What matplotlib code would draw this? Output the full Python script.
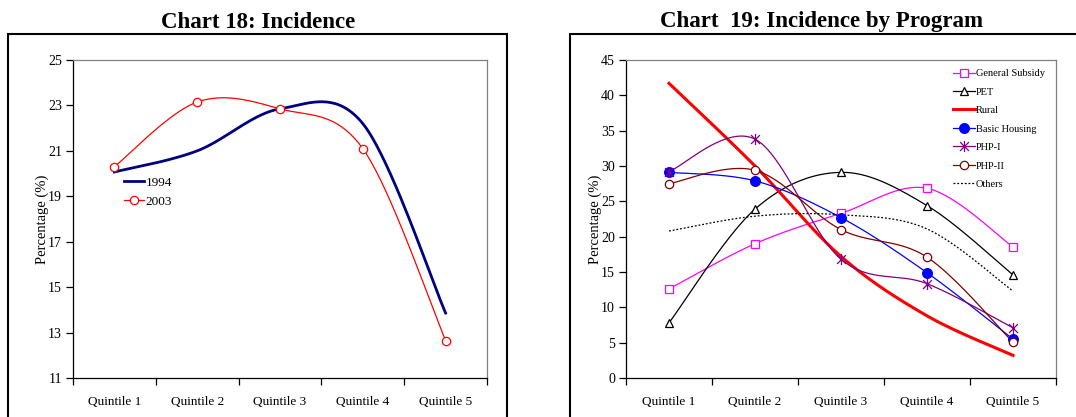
"""
Incidence charts: overall by year and by housing program.
"""

import numpy as np
import matplotlib.pyplot as plt
from matplotlib.patches import Rectangle
from matplotlib.path import Path

quintiles = ['Quintile 1', 'Quintile 2', 'Quintile 3', 'Quintile 4', 'Quintile 5']

# Chart 18
inc_1994 = [20.07, 21.0, 22.85, 22.2, 13.86]
inc_2003 = [20.3, 23.15, 22.85, 21.1, 12.65]

# Chart 19
general_subsidy = [12.6, 19.0, 23.3, 26.85, 18.55]
pet = [7.8, 23.9, 29.1, 24.4, 14.6]
rural = [41.7, 30.0, 17.2, 8.8, 3.2]
basic_housing = [29.1, 27.9, 22.7, 14.9, 5.5]
php_1 = [29.2, 33.8, 16.8, 13.35, 7.1]
php_2 = [27.5, 29.4, 21.0, 17.1, 5.05]
others = [20.8, 22.9, 23.1, 21.1, 12.3]

plt.rcParams['font.family'] = ['Liberation Serif', 'DejaVu Serif']

# asterisk marker: vertical bar plus an x
star = Path([(0, -1), (0, 1), (-0.8, -0.8), (0.8, 0.8), (-0.8, 0.8), (0.8, -0.8)],
            [Path.MOVETO, Path.LINETO] * 3)


def smooth(y, n=40):
    # Catmull-Rom style curve through the points, like a smoothed line chart
    x = np.arange(len(y), dtype=float)
    y = np.asarray(y, dtype=float)
    xs, ys = [], []
    for i in range(len(y) - 1):
        i0 = max(i - 1, 0)
        i3 = min(i + 2, len(y) - 1)
        p0 = np.array([x[i0], y[i0]])
        p1 = np.array([x[i], y[i]])
        p2 = np.array([x[i + 1], y[i + 1]])
        p3 = np.array([x[i3], y[i3]])
        c1 = p1 + (p2 - p0) / 6.0
        c2 = p2 - (p3 - p1) / 6.0
        t = np.linspace(0, 1, n)[:, None]
        pts = ((1 - t) ** 3) * p1 + 3 * ((1 - t) ** 2) * t * c1 + 3 * (1 - t) * t ** 2 * c2 + t ** 3 * p2
        xs.extend(pts[:, 0])
        ys.extend(pts[:, 1])
    return np.array(xs), np.array(ys)


def draw(ax, y, color, lw=0.9, ls='-', marker=None, ms=6, mfc='white', label=None):
    xs, ys = smooth(y)
    ax.plot(xs, ys, color=color, lw=lw, ls=ls, zorder=2)
    if marker is not None:
        ax.plot(range(len(y)), y, ls='none', marker=marker, ms=ms, mfc=mfc,
                mec=color, mew=0.9, zorder=3)
    # legend handle
    ax.plot([], [], color=color, lw=lw, ls=ls, marker=marker, ms=ms, mfc=mfc,
            mec=color, mew=0.9, label=label)


def style_axes(ax, ymin, ymax, step):
    ax.set_xlim(-0.5, 4.5)
    ax.set_ylim(ymin, ymax)
    ax.set_yticks(np.arange(ymin, ymax + 0.1, step))
    ax.set_xticks(range(5))
    ax.set_xticklabels(quintiles, fontsize=9.5)
    ax.set_xticks(np.arange(-0.5, 4.6, 1), minor=True)
    ax.tick_params(axis='x', which='major', length=0, pad=13)
    ax.tick_params(axis='x', which='minor', length=5, width=0.9, direction='out')
    ax.tick_params(axis='y', length=5, width=0.9, direction='out', labelsize=10, pad=3)
    ax.spines['left'].set_color('black')
    ax.spines['bottom'].set_color('black')
    ax.spines['top'].set_color('#808080')
    ax.spines['right'].set_color('#808080')
    for s in ax.spines.values():
        s.set_linewidth(0.9)
    ax.set_ylabel('Percentage (%)', fontsize=10.5, labelpad=-1)


fig = plt.figure(figsize=(10.76, 4.17), dpi=100)

# outer chart frames
fig.patches.append(Rectangle((8 / 1076, -0.05), 499 / 1076, 1.05 - 34 / 417,
                             transform=fig.transFigure, fill=False, ec='black', lw=1.5))
fig.patches.append(Rectangle((570 / 1076, -0.05), 0.5, 1.05 - 34 / 417,
                             transform=fig.transFigure, fill=False, ec='black', lw=1.5))

fig.text(258 / 1076, 1 - 22 / 417, 'Chart 18: Incidence', ha='center', va='center',
         fontsize=16.5, fontweight='bold')
fig.text(822 / 1076, 1 - 22 / 417, 'Chart  19: Incidence by Program', ha='center', va='center',
         fontsize=16.5, fontweight='bold')

ax1 = fig.add_axes([73 / 1076, 1 - 378 / 417, 414 / 1076, 318 / 417])
draw(ax1, inc_1994, '#000080', lw=2.0, label='1994')
draw(ax1, inc_2003, '#FF0000', lw=0.9, marker='o', ms=6, label='2003')
style_axes(ax1, 11, 25, 2)
ax1.legend(loc='upper left', bbox_to_anchor=(0.11, 0.65), frameon=False, fontsize=9.5,
           handlelength=1.5, handletextpad=0.15, labelspacing=0.5, borderaxespad=0)

ax2 = fig.add_axes([626 / 1076, 1 - 378 / 417, 430 / 1076, 318 / 417])
draw(ax2, general_subsidy, '#FF00FF', marker='s', ms=6, label='General Subsidy')
draw(ax2, pet, 'black', marker='^', ms=6, label='PET')
draw(ax2, rural, '#FF0000', lw=2.2, label='Rural')
draw(ax2, basic_housing, '#0000FF', marker='o', ms=7, mfc='#0000FF', label='Basic Housing')
draw(ax2, php_1, '#800080', marker=star, ms=8, label='PHP-I')
draw(ax2, php_2, '#800000', marker='o', ms=6, label='PHP-II')
draw(ax2, others, 'black', ls=(0, (1.5, 1.5)), label='Others')
style_axes(ax2, 0, 45, 5)
ax2.legend(loc='upper left', bbox_to_anchor=(0.75, 0.985), frameon=False, fontsize=7.5,
           handlelength=2.1, handletextpad=0.1, labelspacing=0.88, borderaxespad=0)

fig.savefig('out.png', dpi=100)
